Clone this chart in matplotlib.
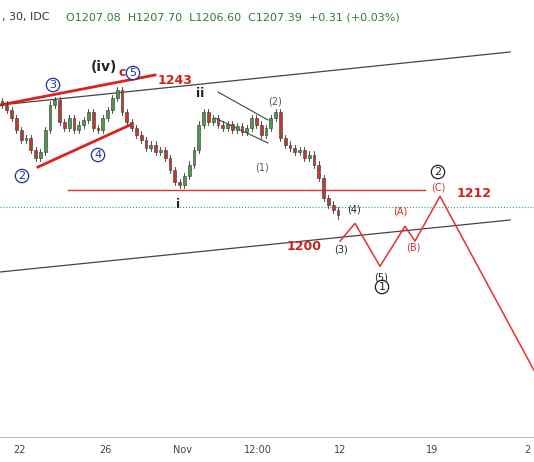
import matplotlib
matplotlib.use("Agg")
import matplotlib.pyplot as plt
from matplotlib.patches import Rectangle
import numpy as np

closes = [1235.0,1233.6,1231.4,1228.2,1225.5,1226.0,1222.8,1220.6,1222.3,1228.2,
          1235.0,1236.3,1230.4,1228.7,1231.4,1228.2,1229.6,1230.9,1233.1,1228.7,
          1228.2,1231.4,1233.6,1236.8,1239.0,1233.1,1230.4,1228.7,1226.9,1225.5,
          1223.3,1224.2,1222.3,1222.8,1220.6,1217.4,1214.2,1213.4,1215.8,1218.8,
          1222.8,1229.6,1233.1,1230.4,1231.4,1229.6,1228.7,1229.8,1228.2,1229.3,
          1227.7,1228.7,1231.4,1229.6,1226.9,1228.7,1231.4,1233.1,1226.0,1224.2,
          1223.3,1222.3,1222.8,1220.6,1221.5,1218.8,1215.2,1209.8,1208.0,1206.6,1205.2]
proj_x = [340,355,380,405,415,440,534]
proj_p = [1198.2,1203.0,1191.4,1202.2,1198.2,1210.3,1163.3]
tick_labels = ["22","26","Nov","12:00","12","19","2"]
tick_x = [20,105,183,258,340,432,527]

def P(y):  # pixel row -> price
    return 1212 + (190 - y) * 0.27

fig = plt.figure(figsize=(5.34, 4.62), dpi=100)
ax = fig.add_axes([0, 0, 1, 1])
ax.set_xlim(0, 534); ax.set_ylim(P(462), P(0)); ax.axis("off")

prev = closes[0] + 1.0
for i, c in enumerate(closes):
    x = 2 + i * 4.8
    o = prev
    hi = max(o, c) + 0.9; lo = min(o, c) - 0.9
    col = "#4a9a4a" if c >= o else "#c0392b"
    ax.plot([x, x], [lo, hi], color="#333", lw=0.6, zorder=3)
    ax.add_patch(Rectangle((x - 1.4, min(o, c)), 2.8, max(abs(c - o), 0.2),
                           facecolor=col, edgecolor="#333", lw=0.4, zorder=4))
    prev = c

L = lambda xs, ys, **k: ax.plot(xs, [P(y) for y in ys], **k)
L([0, 510], [105, 52], color="#444", lw=0.9)
L([0, 510], [272, 220], color="#444", lw=0.9)
L([68, 425], [190, 190], color="#e03030", lw=1)
ax.axhline(P(207), color="#2a9d8f", lw=0.8, ls=":")
L([0, 155], [105, 75], color="#e02020", lw=2)
L([38, 130], [167, 125], color="#e02020", lw=2)
L([218, 268], [92, 120], color="#444", lw=0.8)
L([215, 268], [118, 143], color="#444", lw=0.8)
ax.plot(proj_x, proj_p, color="#e83030", lw=1.1)
L([0, 534], [437, 437], color="#bbb", lw=0.8)

def circ(x, y, t, col="#2030a0", fs=8):
    ax.text(x, P(y), t, color=col, fontsize=fs, ha="center", va="center",
            bbox=dict(boxstyle="circle,pad=0.15", fc="white", ec=col, lw=0.9), zorder=6)
circ(53, 85, "3"); circ(98, 155, "4"); circ(22, 176, "2"); circ(133, 73, "5")
circ(438, 172, "2", "#222"); circ(382, 287, "1", "#222")
T = lambda x, y, t, c="#222", fs=8, w="normal": ax.text(x, P(y), t, color=c, fontsize=fs, ha="center", va="center", fontweight=w)
T(104, 67, "(iv)", fs=10, w="bold"); T(122, 73, "c", "#d02020", 9, "bold")
T(175, 80, "1243", "#d02020", 9, "bold"); T(200, 94, "ii", fs=9, w="bold")
T(178, 204, "i", fs=9, w="bold"); T(275, 102, "(2)", "#555", 7)
T(262, 167, "(1)", "#555", 7); T(354, 210, "(4)", fs=7); T(341, 249, "(3)", fs=7)
T(381, 277, "(5)", fs=7); T(400, 212, "(A)", "#d03030", 7); T(413, 247, "(B)", "#d03030", 7)
T(438, 187, "(C)", "#d03030", 7); T(474, 194, "1212", "#d02020", 9, "bold")
T(304, 247, "1200", "#d02020", 9, "bold")
ax.text(2, P(17), ", 30, IDC", fontsize=8, color="#333", va="center")
ax.text(66, P(17), "O1207.08  H1207.70  L1206.60  C1207.39  +0.31 (+0.03%)",
        fontsize=8, color="#2e7d32", va="center")
for x, t in zip(tick_x, tick_labels):
    T(x, 450, t, "#444", 7)
fig.savefig("out.png", dpi=100)
